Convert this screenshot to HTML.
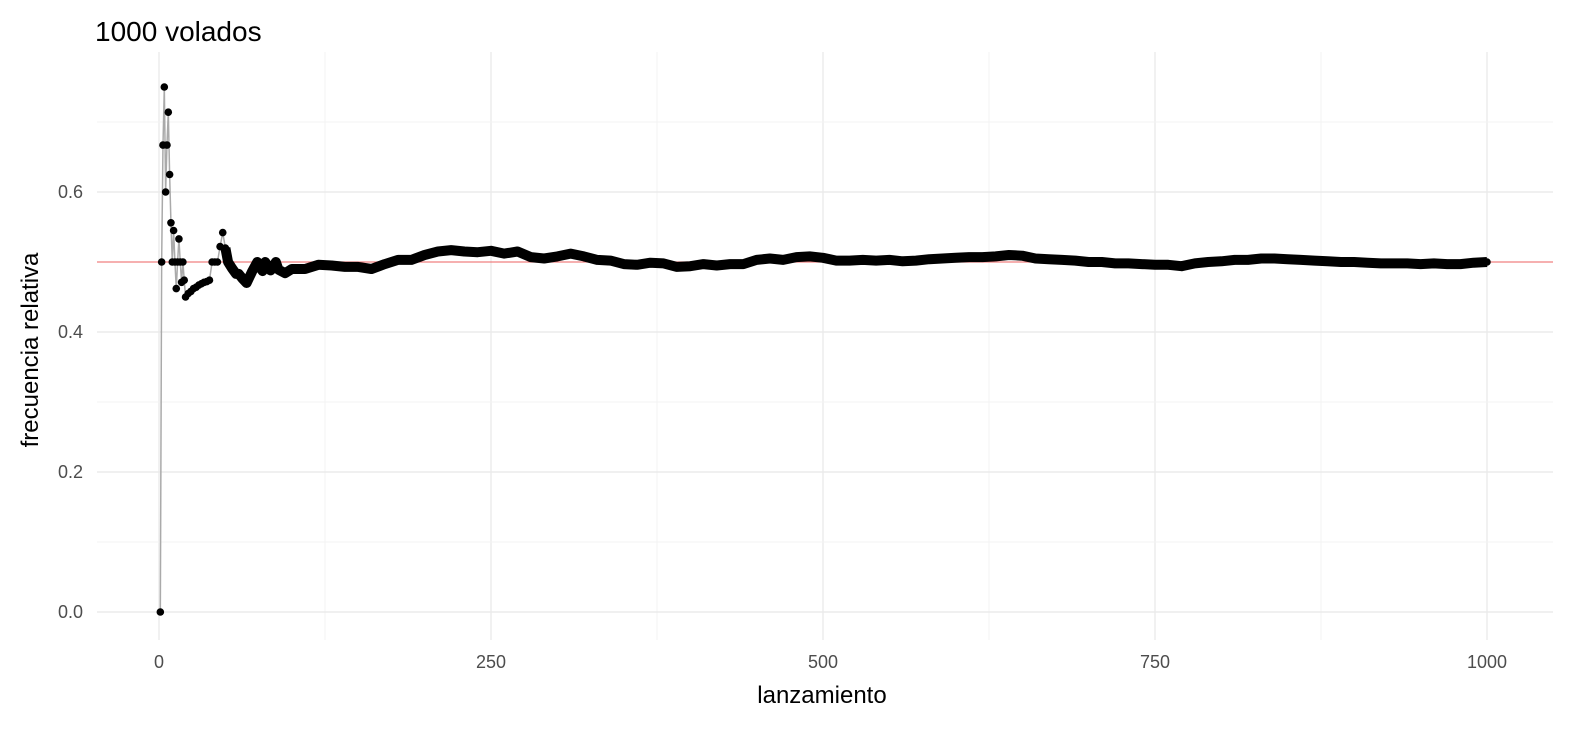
<!DOCTYPE html>
<html><head><meta charset="utf-8"><style>
body{margin:0;background:#fff;font-family:"Liberation Sans",sans-serif}
svg text{font-family:"Liberation Sans",sans-serif}
</style></head><body>
<svg id="chart" width="1574" height="729" xmlns="http://www.w3.org/2000/svg">
<text x="95" y="41" font-size="28" fill="#000">1000 volados</text>
<g id="grid"></g>
<g id="marks"></g>
<text x="822" y="703" font-size="24" text-anchor="middle" fill="#000">lanzamiento</text>
<text transform="translate(38,350) rotate(-90)" font-size="24" text-anchor="middle" fill="#000">frecuencia relativa</text>
</svg>
<script>
const lanzamiento=[1,2,3,4,5,6,7,8,9,10,11,12,13,14,15,16,17,18,19,20,22,24,26,28,30,32,34,36,38,40,42,44,46,48,50,52,55,58,60,63,66,70,74,78,80,84,88,90,95,100,110,120,130,140,150,160,170,180,190,200,210,220,230,240,250,260,270,280,290,300,310,320,330,340,350,360,370,380,390,400,410,420,430,440,450,460,470,480,490,500,510,520,530,540,550,560,570,580,590,600,610,620,630,640,650,660,670,680,690,700,710,720,730,740,750,760,770,780,790,800,810,820,830,840,850,860,870,880,890,900,910,920,930,940,950,960,970,980,990,1000];
const frecuencia=[0,0.5,0.667,0.75,0.6,0.667,0.714,0.625,0.556,0.5,0.545,0.5,0.462,0.5,0.533,0.5,0.471,0.5,0.474,0.45,0.455,0.458,0.462,0.464,0.467,0.469,0.471,0.472,0.474,0.5,0.5,0.5,0.522,0.542,0.52,0.5,0.491,0.483,0.483,0.476,0.47,0.486,0.5,0.487,0.5,0.488,0.5,0.489,0.484,0.49,0.49,0.496,0.495,0.493,0.493,0.49,0.497,0.503,0.503,0.51,0.515,0.517,0.515,0.514,0.516,0.512,0.515,0.507,0.505,0.508,0.512,0.508,0.503,0.502,0.497,0.496,0.499,0.498,0.493,0.494,0.497,0.495,0.497,0.497,0.503,0.505,0.503,0.507,0.508,0.506,0.502,0.502,0.503,0.502,0.503,0.501,0.502,0.504,0.505,0.506,0.507,0.507,0.508,0.51,0.509,0.505,0.504,0.503,0.502,0.5,0.5,0.498,0.498,0.497,0.496,0.496,0.494,0.498,0.5,0.501,0.503,0.503,0.505,0.505,0.504,0.503,0.502,0.501,0.5,0.5,0.499,0.498,0.498,0.498,0.497,0.498,0.497,0.497,0.499,0.5];
const xTicks=[0,250,500,750,1000];
const yTicks=[0,0.2,0.4,0.6];
const NS="http://www.w3.org/2000/svg";
const X=v=>159+v*1.328, Y=v=>612-v*700;
const L=97,R=1553,T=52,B=640;
const grid=document.getElementById('grid'),marks=document.getElementById('marks');
function mk(tag,at,parent){const e=document.createElementNS(NS,tag);for(const k in at)e.setAttribute(k,at[k]);parent.appendChild(e);return e;}
for(let i=0;i<xTicks.length;i++){
  const v=xTicks[i];
  const g=mk('line',{x1:X(v),x2:X(v),y1:T,y2:B,stroke:'#ebebeb','stroke-width':1.4},grid);
  
  
  if(i<xTicks.length-1){const m=mk('line',{x1:X(v+125),x2:X(v+125),y1:T,y2:B,stroke:'#f3f3f3','stroke-width':1},grid);
  
  }
  const t=mk('text',{x:X(v),y:668,'font-size':18,'text-anchor':'middle',fill:'#4d4d4d'},grid);t.textContent=v;
  
  
}
for(const v of yTicks){
  const g=mk('line',{x1:L,x2:R,y1:Y(v),y2:Y(v),stroke:'#ebebeb','stroke-width':1.4},grid);
  
  
  const m=mk('line',{x1:L,x2:R,y1:Y(v+0.1),y2:Y(v+0.1),stroke:'#f3f3f3','stroke-width':1},grid);
  
  
  const t=mk('text',{x:83,y:Y(v)+6,'font-size':18,'text-anchor':'end',fill:'#4d4d4d'},grid);t.textContent=v.toFixed(1);
  
  
}
const ref=mk('line',{x1:L,x2:R,y1:Y(0.5),y2:Y(0.5),stroke:'#f08080','stroke-width':1.3},marks);


const pts=lanzamiento.map((v,i)=>X(v)+','+Y(frecuencia[i])).join(' ');
const gl=mk('polyline',{points:pts,fill:'none',stroke:'#aaa','stroke-width':1.5},marks);


const idx=lanzamiento.findIndex(v=>v>=50);
const band=mk('polyline',{points:lanzamiento.slice(idx).map((v,i)=>X(v)+','+Y(frecuencia[i+idx])).join(' '),fill:'none',stroke:'#000','stroke-width':10,'stroke-linejoin':'round'},marks);


for(let i=0;i<lanzamiento.length;i++){
  const c=mk('circle',{cx:X(lanzamiento[i]),cy:Y(frecuencia[i]),r:3.8,fill:'#000'},marks);
  
  
}
</script>
</body></html>
